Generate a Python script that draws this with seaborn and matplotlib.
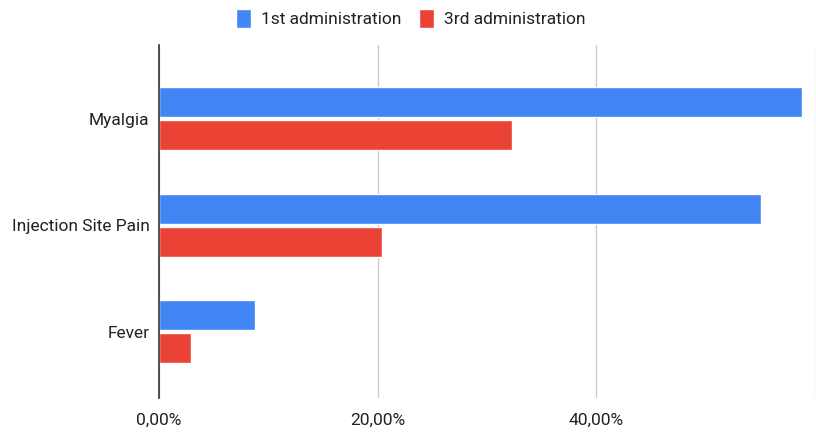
import numpy as np
import pandas as pd
import matplotlib.pyplot as plt
import seaborn as sns

symptoms = ['Myalgia', 'Injection Site Pain', 'Fever']
first_admin = [58.8, 55.0, 8.8]
third_admin = [32.3, 20.4, 2.9]
series = ['1st administration', '3rd administration']

df = pd.DataFrame({
    'Symptom': symptoms * 2,
    'Percent': first_admin + third_admin,
    'Dose': [series[0]] * 3 + [series[1]] * 3,
})

sns.set_style('white')
plt.rcParams['font.family'] = ['Roboto', 'DejaVu Sans']

fig = plt.figure(figsize=(8.16, 4.33), dpi=100)
ax = fig.add_axes([0.195, 0.081, 0.804, 0.815])

sns.barplot(data=df, y='Symptom', x='Percent', hue='Dose', orient='h',
            palette=['#4285F4', '#EA4335'], width=0.62, gap=0.1,
            saturation=1, ax=ax, legend=True)

ax.set_xlim(0, 60)
ax.set_ylim(2.62, -0.69)
ax.set_xticks([0, 20, 40, 60])
ax.set_xticklabels(['0,00%', '20,00%', '40,00%', ''])
ax.grid(axis='x', color='#cccccc', linewidth=1)
ax.set_axisbelow(True)
for s in ['top', 'right', 'bottom']:
    ax.spines[s].set_visible(False)
ax.spines['left'].set_color('#333333')
ax.spines['left'].set_linewidth(1.2)
ax.tick_params(axis='both', length=0, labelsize=12.5, colors='#222222')
ax.tick_params(axis='y', pad=7)
ax.tick_params(axis='x', pad=11)
ax.set_xlabel('')
ax.set_ylabel('')

leg = ax.legend(loc='center', bbox_to_anchor=(0.384, 1.075), ncol=2, frameon=False,
                fontsize=12.5, handlelength=0.85, handleheight=1.3,
                handletextpad=0.6, columnspacing=1.0)
for t in leg.get_texts():
    t.set_color('#222222')

fig.savefig('out.png', dpi=100)
